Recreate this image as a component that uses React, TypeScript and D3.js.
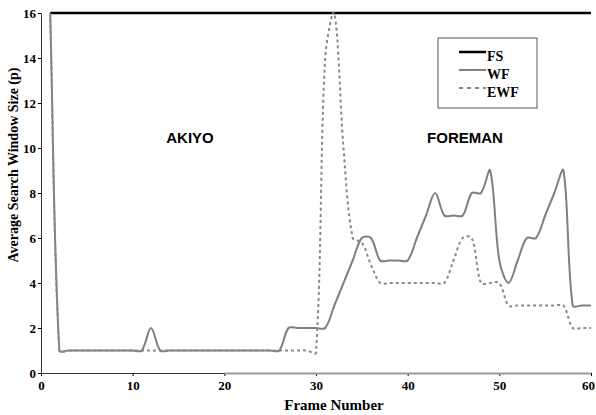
import React, { useEffect, useRef } from "react";
import * as d3 from "d3";

// frames 1..60
const frames = d3.range(1, 61);

const fsValues = frames.map(() => 16);

const wfValues = [
  16, 1, 1, 1, 1, 1, 1, 1, 1, 1,
  1, 2, 1, 1, 1, 1, 1, 1, 1, 1,
  1, 1, 1, 1, 1, 1, 2, 2, 2, 2,
  2, 3, 4, 5, 6, 6, 5, 5, 5, 5,
  6, 7, 8, 7, 7, 7, 8, 8, 9, 5,
  4, 5, 6, 6, 7, 8, 9, 3, 3, 3,
];

const ewfValues = [
  16, 1, 1, 1, 1, 1, 1, 1, 1, 1,
  1, 1, 1, 1, 1, 1, 1, 1, 1, 1,
  1, 1, 1, 1, 1, 1, 1, 1, 1, 0.9,
  14, 16, 10, 6, 5.8, 4.8, 4, 4, 4, 4,
  4, 4, 4, 4, 5, 6, 6, 4, 4, 4,
  3, 3, 3, 3, 3, 3, 3, 2, 2, 2,
];

const xTicks = [0, 10, 20, 30, 40, 50, 60];
const yTicks = [0, 2, 4, 6, 8, 10, 12, 14, 16];

const series = [
  { name: "FS", values: fsValues, color: "#000", width: 2.5, dash: null },
  { name: "WF", values: wfValues, color: "#808080", width: 2, dash: null },
  { name: "EWF", values: ewfValues, color: "#8a8a8a", width: 2, dash: "3,3" },
];

const W = 596;
const H = 415;
const serif = "'Liberation Serif', 'Times New Roman', serif";
const sans = "'Liberation Sans', Arial, sans-serif";

// spreadsheet-style smoothed line: bezier handles weighted by segment length
function smoothCurve(context: any) {
  let pts: number[][] = [];
  const dist = (a: number[], b: number[]) => Math.hypot(b[0] - a[0], b[1] - a[1]);
  return {
    areaStart() {},
    areaEnd() {},
    lineStart() { pts = []; },
    point(x: number, y: number) { pts.push([+x, +y]); },
    lineEnd() {
      const n = pts.length;
      if (!n) return;
      context.moveTo(pts[0][0], pts[0][1]);
      for (let i = 0; i < n - 1; i++) {
        const p0 = pts[Math.max(i - 1, 0)];
        const p1 = pts[i];
        const p2 = pts[i + 1];
        const p3 = pts[Math.min(i + 2, n - 1)];
        const d01 = dist(p0, p1), d12 = dist(p1, p2), d23 = dist(p2, p3);
        const w1 = d01 + d12 > 0 ? d12 / (d01 + d12) / 3 : 0;
        const w2 = d12 + d23 > 0 ? d12 / (d12 + d23) / 3 : 0;
        context.bezierCurveTo(
          p1[0] + (p2[0] - p0[0]) * w1, p1[1] + (p2[1] - p0[1]) * w1,
          p2[0] - (p3[0] - p1[0]) * w2, p2[1] - (p3[1] - p1[1]) * w2,
          p2[0], p2[1]
        );
      }
    },
  };
}

function App() {
  const ref = useRef<SVGSVGElement>(null);

  useEffect(() => {
    const svg = d3.select(ref.current);
    svg.selectAll("*").remove();

    const x = d3.scaleLinear().domain([0, 60]).range([41, 591]);
    const y = d3.scaleLinear().domain([0, 16]).range([373, 13]);

    svg.append("rect").attr("width", W).attr("height", H).attr("fill", "#fff");

    // y axis
    const yAxis = svg.append("g")
      .attr("transform", `translate(${x(0)},0)`)
      .call(d3.axisLeft(y).tickValues(yTicks).tickSize(3).tickPadding(2));
    yAxis.attr("font-family", null).attr("font-size", null);
    yAxis.select(".domain").attr("stroke", "#333");
    yAxis.selectAll("text")
      .style("font-family", serif).style("font-weight", "bold")
      .style("font-size", "13px").attr("fill", "#000");

    // x axis
    const xAxis = svg.append("g")
      .attr("transform", `translate(0,${y(0)})`)
      .call(d3.axisBottom(x).tickValues(xTicks).tickSize(3).tickPadding(5));
    xAxis.attr("font-family", null).attr("font-size", null);
    xAxis.select(".domain").attr("stroke", "#333");
    xAxis.selectAll("text")
      .style("font-family", serif).style("font-weight", "bold")
      .style("font-size", "13px").attr("fill", "#000")
      .attr("dx", (d: any) => (d === 60 ? -3 : 0));

    // greyish thicker stretch of the axis line in the scan
    svg.append("line")
      .attr("x1", x(20)).attr("x2", x(60))
      .attr("y1", y(0) + 0.5).attr("y2", y(0) + 0.5)
      .attr("stroke", "#999").attr("stroke-width", 2);

    const line = d3.line<number>()
      .x((_, i) => x(frames[i]))
      .y(d => y(d))
      .curve(smoothCurve as any);

    series.forEach(s => {
      svg.append("path")
        .datum(s.values)
        .attr("d", line)
        .attr("fill", "none")
        .attr("stroke", s.color)
        .attr("stroke-width", s.width)
        .attr("stroke-dasharray", s.dash);
    });

    // legend
    const lg = svg.append("g");
    lg.append("rect")
      .attr("x", 438).attr("y", 38).attr("width", 99).attr("height", 70)
      .attr("fill", "#fff").attr("stroke", "#555").attr("stroke-width", 1);
    series.forEach((s, i) => {
      const ly = 52 + i * 18;
      lg.append("line")
        .attr("x1", 459).attr("x2", 486).attr("y1", ly).attr("y2", ly)
        .attr("stroke", s.color).attr("stroke-width", s.width)
        .attr("stroke-dasharray", s.dash ? "4,4" : null);
      lg.append("text")
        .attr("x", 487).attr("y", ly + 9)
        .style("font-family", serif).style("font-weight", "bold")
        .style("font-size", "14px").text(s.name);
    });

    // sequence labels
    svg.append("text")
      .attr("x", 190).attr("y", 143).attr("text-anchor", "middle")
      .style("font-family", sans).style("font-weight", "bold").style("font-size", "15px")
      .text("AKIYO");
    svg.append("text")
      .attr("x", 465).attr("y", 143).attr("text-anchor", "middle")
      .style("font-family", sans).style("font-weight", "bold").style("font-size", "15px")
      .text("FOREMAN");

    // axis titles
    svg.append("text")
      .attr("x", 334).attr("y", 410).attr("text-anchor", "middle")
      .style("font-family", serif).style("font-weight", "bold").style("font-size", "15px")
      .text("Frame Number");
    svg.append("text")
      .attr("transform", "translate(18,165) rotate(-90)")
      .attr("text-anchor", "middle")
      .style("font-family", serif).style("font-weight", "bold").style("font-size", "14px")
      .text("Average Search Window Size (p)");
  }, []);

  return (
    <svg
      ref={ref}
      width={W}
      height={H}
      style={{ position: "absolute", left: 0, top: 0 }}
    />
  );
}

export default App;
